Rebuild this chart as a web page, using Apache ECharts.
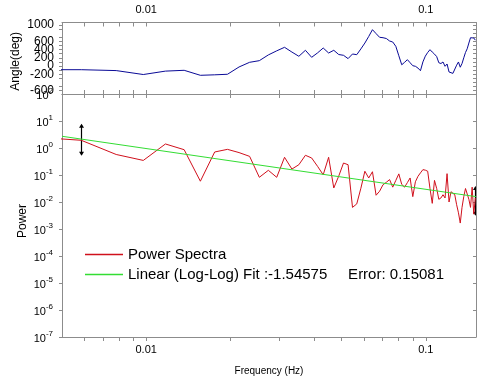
<!DOCTYPE html>
<html><head><meta charset="utf-8">
<script src="https://cdn.jsdelivr.net/npm/echarts@6/dist/echarts.min.js"></script>
<style>html,body{margin:0;padding:0;background:#fff}#c{width:494px;height:380px}</style>
</head><body><div id="c"></div>
<script>
// Frequency bins (Hz)
const freq = [0.003906,0.005859,0.007813,0.009766,0.011719,0.013672,0.015625,0.017578,0.019531,0.021484,
0.023438,0.025391,0.027344,0.029297,0.03125,0.033203,0.035156,0.037109,0.039063,0.041016,
0.042969,0.044922,0.046875,0.048828,0.050781,0.052734,0.054688,0.056641,0.058594,0.060547,
0.0625,0.064453,0.066406,0.068359,0.070313,0.072266,0.074219,0.076172,0.078125,0.080078,
0.082031,0.083984,0.085938,0.087891,0.089844,0.091797,0.09375,0.095703,0.097656,0.099609,
0.101563,0.103516,0.105469,0.107422,0.109375,0.111328,0.113281,0.115234,0.117188,0.119141,
0.121094,0.123047,0.125,0.126953,0.128906,0.130859,0.132813,0.134766,0.136719,0.138672,
0.140625,0.142578,0.144531,0.146484,0.148438,0.150391];
// Phase (deg)
const phase = [-90,-90,-112,-208,-125,-105,-227,-215,-202,-24,
90,130,270,370,456,340,237,383,212,320,
439,317,383,280,261,180,293,276,417,560,
720,886,790,700,690,670,610,585,480,250,
30,90,154,80,7,-7,-50,-115,100,240,
330,398,340,290,230,80,60,98,-7,49,
-146,-115,-180,-212,20,98,-30,60,200,330,
420,560,690,724,683,630];
// Power spectrum
const power = [2.57,1.93,0.575,0.347,1.41,0.865,0.0589,0.711,0.891,0.676,
0.490,0.0822,0.149,0.0822,0.453,0.166,0.240,0.537,0.427,0.209,
0.102,0.453,0.0331,0.0912,0.278,0.240,0.00631,0.00851,0.0324,0.138,
0.0776,0.132,0.0178,0.0251,0.0437,0.0537,0.0676,0.0355,0.0631,0.110,
0.0447,0.0355,0.0525,0.0776,0.0158,0.0562,0.0891,0.120,0.158,0.151,
0.138,0.0316,0.00891,0.0631,0.0316,0.0126,0.0141,0.0186,0.0141,0.112,
0.0100,0.0240,0.0209,0.0186,0.00794,0.00398,0.00166,0.00631,0.0158,0.0316,
0.0355,0.0126,0.00631,0.0355,0.00355,0.0141];
// Linear (log-log) fit end points
const fitFreq = [0.005, 0.1512];
const fitPower = [2.72, 0.0158];
// Error bars
const errFreq = [0.00586, 0.1504];
const errLow = [0.565, 0.0034];
const errHigh = [7.3, 0.036];
// Axis ticks / labels
const xMin = 0.005, xMax = 0.1512;
const xLabelVals = [0.01, 0.1];
const xLabelText = ['0.01', '0.1'];
const xTickVals = [0.006,0.007,0.008,0.009,0.01,0.02,0.03,0.04,0.05,0.06,0.07,0.08,0.09,0.1];
const phaseLabels = [-600,-400,-200,0,200,400,600,800,1000];
const phaseTicks = [-600,-500,-400,-300,-200,-100,0,100,200,300,400,500,600,700,800,900,1000];
const powExp = [-7,-6,-5,-4,-3,-2,-1,0,1,2];
const seriesNames = ['Power Spectra', 'Linear (Log-Log) Fit :-1.54575     Error: 0.15081'];

const L = v => Math.log10(v);
const gray = '#8c8c8c';
const FONT = 'Liberation Sans, Arial, sans-serif';

function xAx(grid, pos, showLabel, inside) {
  return {
    type: 'value', gridIndex: grid, position: pos, min: L(xMin), max: L(xMax),
    axisLine: {show: true, onZero: false, lineStyle: {color: gray}},
    axisTick: {show: true, inside: inside, length: 4, lineStyle: {color: gray}, customValues: xTickVals.map(L)},
    axisLabel: {show: showLabel, customValues: xLabelVals.map(L), margin: 7, color: '#000', fontSize: 11, fontFamily: FONT,
      showMinLabel: true, showMaxLabel: true, hideOverlap: false,
      formatter: v => { let i = xLabelVals.findIndex(t => Math.abs(L(t) - v) < 1e-6); return i >= 0 ? xLabelText[i] : ''; }},
    splitLine: {show: false}
  };
}
function phaseAx(pos, showLabel, inside) {
  return {
    type: 'value', gridIndex: 0, position: pos, min: -683, max: 1061,
    axisLine: {show: true, onZero: false, lineStyle: {color: gray}},
    axisTick: {show: true, inside: inside, length: 3, lineStyle: {color: gray}, customValues: phaseTicks},
    axisLabel: {show: showLabel, customValues: phaseLabels, margin: 8, color: '#000', fontSize: 12, fontFamily: FONT,
      hideOverlap: false, showMinLabel: true, showMaxLabel: true, lineHeight: 9,
      formatter: v => String(Math.round(v))},
    splitLine: {show: false}
  };
}
function powAx(pos, showLabel, inside) {
  return {
    type: 'value', gridIndex: 1, position: pos, min: -7, max: 2, interval: 1,
    axisLine: {show: true, onZero: false, lineStyle: {color: gray}},
    axisTick: {show: true, inside: inside, length: 3, lineStyle: {color: gray}, customValues: powExp.slice(0, -1)},
    axisLabel: {show: showLabel, customValues: powExp, margin: 9, color: '#000', fontFamily: FONT,
      hideOverlap: false, showMinLabel: true, showMaxLabel: true,
      formatter: v => '{b|10}{s|' + Math.round(v) + '}',
      rich: {b: {fontSize: 11, fontFamily: FONT, color: '#000', lineHeight: 14, verticalAlign: 'bottom'},
             s: {fontSize: 8, fontFamily: FONT, color: '#000', lineHeight: 14, verticalAlign: 'top'}}},
    splitLine: {show: false}
  };
}

const chart = echarts.init(document.getElementById('c'), null, {renderer: 'canvas'});
chart.setOption({
  animation: false,
  backgroundColor: '#fff',
  textStyle: {fontFamily: FONT},
  grid: [
    {left: 62, top: 22.5, width: 414, height: 71.5, outerBoundsMode: 'none', containLabel: false},
    {left: 62, top: 94, width: 414, height: 243, outerBoundsMode: 'none', containLabel: false}
  ],
  xAxis: [xAx(0, 'top', true, true), xAx(0, 'bottom', false, true), xAx(1, 'bottom', true, false), xAx(1, 'top', false, true)],
  yAxis: [phaseAx('left', true, false), phaseAx('right', false, true), powAx('left', true, false), powAx('right', false, true)],
  legend: {
    data: seriesNames, orient: 'vertical', left: 85, top: 247, padding: 0, itemWidth: 38, itemHeight: 1.5, itemGap: 5,
    icon: 'rect', selectedMode: false,
    textStyle: {fontSize: 15, fontFamily: FONT, color: '#000'}
  },
  graphic: [
    {type: 'text', left: 10, top: 32, rotation: Math.PI / 2, style: {text: 'Angle(deg)', fontSize: 12, fontFamily: FONT, fill: '#000'}},
    {type: 'text', x: 17, y: 238, rotation: Math.PI / 2, style: {text: 'Power', fontSize: 12, fontFamily: FONT, fill: '#000'}},
    {type: 'text', x: 269, y: 371, style: {text: 'Frequency (Hz)', fontSize: 10, fontFamily: FONT, fill: '#000', align: 'center', verticalAlign: 'middle'}}
  ],
  series: [
    {type: 'line', name: 'Phase', xAxisIndex: 0, yAxisIndex: 0, showSymbol: false, symbol: 'none', clip: true,
      lineStyle: {color: '#0a0a96', width: 1}, itemStyle: {color: '#0a0a96'},
      data: freq.map((f, i) => [L(f), phase[i]])},
    {type: 'line', name: seriesNames[0], xAxisIndex: 2, yAxisIndex: 2, showSymbol: false, symbol: 'none', clip: true,
      lineStyle: {color: '#d0101c', width: 1}, itemStyle: {color: '#d0101c'},
      data: freq.map((f, i) => [L(f), L(power[i])])},
    {type: 'line', name: seriesNames[1], xAxisIndex: 2, yAxisIndex: 2, showSymbol: false, symbol: 'none', clip: true,
      lineStyle: {color: '#33dd33', width: 1}, itemStyle: {color: '#33dd33'},
      data: fitFreq.map((f, i) => [L(f), L(fitPower[i])])},
    {type: 'custom', name: 'err', xAxisIndex: 2, yAxisIndex: 2, clip: true,
      data: errFreq.map((f, i) => [L(f), L(errLow[i]), L(errHigh[i])]),
      renderItem: (params, api) => {
        const top = api.coord([api.value(0), api.value(2)]);
        const bot = api.coord([api.value(0), api.value(1)]);
        const x = Math.round(top[0]) + 0.5;
        return {type: 'group', children: [
          {type: 'line', shape: {x1: x, y1: top[1], x2: x, y2: bot[1]}, style: {stroke: '#000', lineWidth: 1.2}},
          {type: 'polygon', shape: {points: [[x, top[1] - 1], [x - 2.5, top[1] + 3], [x + 2.5, top[1] + 3]]}, style: {fill: '#000'}},
          {type: 'polygon', shape: {points: [[x, bot[1] + 1], [x - 2.5, bot[1] - 3], [x + 2.5, bot[1] - 3]]}, style: {fill: '#000'}}
        ]};
      }}
  ]
});
</script></body></html>
